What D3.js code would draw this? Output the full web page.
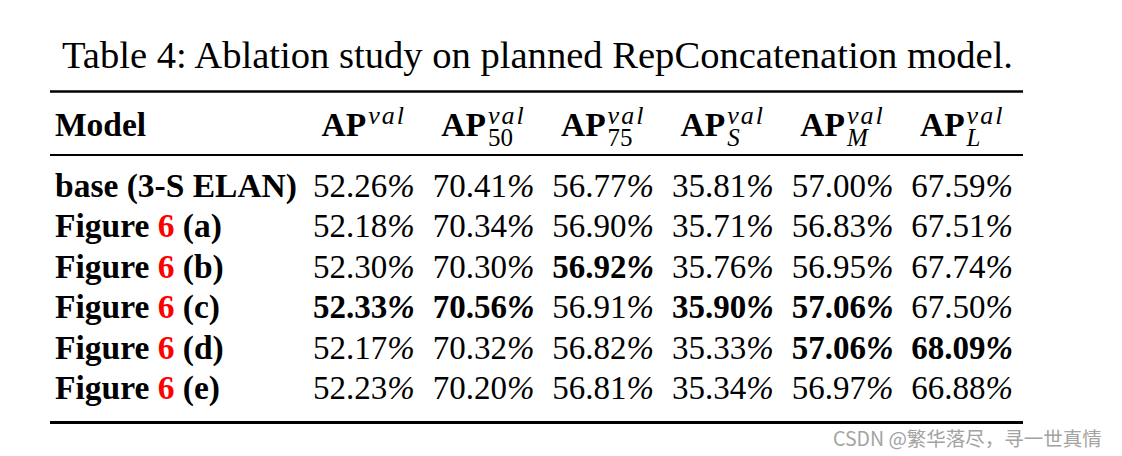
<!DOCTYPE html>
<html>
<head>
<meta charset="utf-8">
<script src="https://cdn.jsdelivr.net/npm/d3@7"></script>
<style>
  html, body { margin: 0; padding: 0; background: #fff; }
  svg { display: block; }
</style>
</head>
<body>
<svg id="chart" width="1122" height="456"></svg>
<script>
// ---- data ----
const title = "Table 4: Ablation study on planned RepConcatenation model.";
const headerLabel = "Model";
const columns = ["AP", "AP50", "AP75", "APS", "APM", "APL"];
const colSub = ["", "50", "75", "S", "M", "L"];
const colSubItalic = [false, false, false, true, true, true];
const colSup = "val";
const modelPrefix = ["base (3-S ELAN)", "Figure ", "Figure ", "Figure ", "Figure ", "Figure "];
const modelRef = ["", "6", "6", "6", "6", "6"];
const modelSuffix = ["", " (a)", " (b)", " (c)", " (d)", " (e)"];
const models = ["base", "a", "b", "c", "d", "e"];
const valAP   = [52.26, 52.18, 52.30, 52.33, 52.17, 52.23];
const valAP50 = [70.41, 70.34, 70.30, 70.56, 70.32, 70.20];
const valAP75 = [56.77, 56.90, 56.92, 56.91, 56.82, 56.81];
const valAPS  = [35.81, 35.71, 35.76, 35.90, 35.33, 35.34];
const valAPM  = [57.00, 56.83, 56.95, 57.06, 57.06, 56.97];
const valAPL  = [67.59, 67.51, 67.74, 67.50, 68.09, 66.88];
const watermark = "CSDN @繁华落尽，寻一世真情";

const series = [valAP, valAP50, valAP75, valAPS, valAPM, valAPL];

// ---- layout ----
const svg = d3.select("#chart");
const serif = "'Liberation Serif', 'Times New Roman', serif";
const fs = 33.5;

const x = d3.scaleBand().domain(columns).range([304, 1022]).padding(0);
const y = d3.scalePoint().domain(models).range([197, 399]);
const ruleX = [50, 1023];

// title
svg.append("text")
  .attr("x", 62).attr("y", 68)
  .attr("textLength", 951).attr("lengthAdjust", "spacingAndGlyphs")
  .style("font-family", serif).style("font-size", "38px")
  .attr("fill", "#000")
  .text(title);

// rules
const rules = [{y: 91.5, w: 2.6}, {y: 155, w: 2}, {y: 422.5, w: 3}];
svg.selectAll("line.rule").data(rules).join("line")
  .attr("class", "rule")
  .attr("x1", ruleX[0]).attr("x2", ruleX[1])
  .attr("y1", d => d.y).attr("y2", d => d.y)
  .attr("stroke", "#000").attr("stroke-width", d => d.w);

// header
const headY = 136;
svg.append("text")
  .attr("x", 55).attr("y", headY)
  .style("font-family", serif).style("font-size", fs + "px").style("font-weight", "bold")
  .text(headerLabel);

columns.forEach((c, i) => {
  const g = svg.append("g");
  const ap = g.append("text").attr("y", headY)
    .style("font-family", serif).style("font-size", fs + "px").style("font-weight", "bold")
    .text("AP");
  const w1 = ap.node().getComputedTextLength();
  const sup = g.append("text").attr("y", headY - 12)
    .style("font-family", serif).style("font-size", "26px").style("font-style", "italic")
    .style("letter-spacing", "2px")
    .text(colSup);
  const w2 = sup.node().getComputedTextLength();
  let w3 = 0, sub = null;
  if (colSub[i]) {
    sub = g.append("text").attr("y", headY + 10)
      .style("font-family", serif).style("font-size", "25px")
      .style("font-style", colSubItalic[i] ? "italic" : "normal")
      .text(colSub[i]);
    w3 = sub.node().getComputedTextLength();
  }
  const total = w1 + 2 + Math.max(w2, w3);
  const cx = x(c) + x.bandwidth() / 2;
  const x0 = cx - total / 2;
  ap.attr("x", x0);
  sup.attr("x", x0 + w1 + 2);
  if (sub) sub.attr("x", x0 + w1 + 2);
});

// row labels
models.forEach((m, r) => {
  const t = svg.append("text")
    .attr("x", 55).attr("y", y(m))
    .style("font-family", serif).style("font-size", fs + "px").style("font-weight", "bold");
  t.append("tspan").text(modelPrefix[r]);
  if (modelRef[r]) t.append("tspan").attr("fill", "#f00").text(modelRef[r]);
  if (modelSuffix[r]) t.append("tspan").text(modelSuffix[r]);
});

// values (bold = column best)
columns.forEach((c, i) => {
  const vals = series[i];
  const best = d3.max(vals);
  const cx = x(c) + x.bandwidth() / 2;
  svg.selectAll(null).data(vals).join("text")
    .attr("x", cx)
    .attr("y", (d, r) => y(models[r]))
    .attr("text-anchor", "middle")
    .style("font-family", serif).style("font-size", "33px")
    .style("font-weight", d => d === best ? "bold" : "normal")
    .each(function(d) {
      const t = d3.select(this);
      t.append("tspan").style("font-family", serif).text(d.toFixed(2));
      t.append("tspan").style("font-family", serif).style("font-style", "italic").text("%");
    });
});

// watermark
svg.append("text")
  .attr("x", 833).attr("y", 446)
  .style("font-family", "'Noto Sans CJK SC', 'Noto Sans', sans-serif")
  .style("font-size", "19.5px")
  .attr("fill", "#a3a3a3")
  .text(watermark);
</script>
</body>
</html>
